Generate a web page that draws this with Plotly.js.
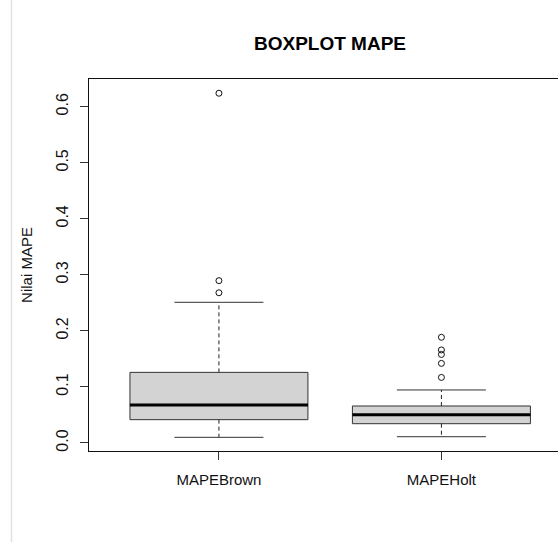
<!DOCTYPE html>
<html>
<head>
<meta charset="utf-8">
<script src="https://cdn.plot.ly/plotly-3.0.1.min.js"></script>
<style>html,body{margin:0;padding:0;overflow:hidden;background:#fff;}#chart{width:558px;height:542px;}</style>
</head>
<body>
<div id="chart"></div>
<script>
// Data
var categories = ['MAPEBrown', 'MAPEHolt'];
var q1Values = [0.0416, 0.0344];
var medianValues = [0.0678, 0.0505];
var q3Values = [0.126, 0.066];
var lowerWhiskers = [0.0101, 0.0112];
var upperWhiskers = [0.251, 0.0946];
var outliersBrown = [0.268, 0.2896, 0.624];
var outliersHolt = [0.117, 0.142, 0.158, 0.166, 0.1886];
var yTickValues = [0, 0.1, 0.2, 0.3, 0.4, 0.5, 0.6];
var yTickLabels = ['0.0', '0.1', '0.2', '0.3', '0.4', '0.5', '0.6'];

var positions = categories.map(function (c, i) { return i; });
var boxWidth = 0.8;
var stapleHalf = 0.2;

var traces = [];

// dashed whiskers
var wx = [], wy = [];
positions.forEach(function (p, i) {
  wx.push(p, p, null, p, p, null);
  wy.push(q3Values[i], upperWhiskers[i], null, q1Values[i], lowerWhiskers[i], null);
});
traces.push({type: 'scatter', mode: 'lines', x: wx, y: wy,
  line: {color: '#222', width: 1, dash: '4px,3px'}, hoverinfo: 'skip', showlegend: false});

// staples
var sx = [], sy = [];
positions.forEach(function (p, i) {
  sx.push(p - stapleHalf, p + stapleHalf, null, p - stapleHalf, p + stapleHalf, null);
  sy.push(upperWhiskers[i], upperWhiskers[i], null, lowerWhiskers[i], lowerWhiskers[i], null);
});
traces.push({type: 'scatter', mode: 'lines', x: sx, y: sy,
  line: {color: '#333', width: 1}, hoverinfo: 'skip', showlegend: false});

// boxes
traces.push({
  type: 'box', x: positions, q1: q1Values, median: medianValues, q3: q3Values,
  lowerfence: q1Values, upperfence: q3Values, width: boxWidth, whiskerwidth: 0,
  fillcolor: '#d3d3d3', line: {color: '#333', width: 1}, boxpoints: false,
  hoverinfo: 'skip', showlegend: false
});

// thick medians
var mx = [], my = [];
positions.forEach(function (p, i) {
  mx.push(p - boxWidth / 2, p + boxWidth / 2, null);
  my.push(medianValues[i], medianValues[i], null);
});
traces.push({type: 'scatter', mode: 'lines', x: mx, y: my,
  line: {color: '#000', width: 3}, hoverinfo: 'skip', showlegend: false});

// outliers
var ox = [], oy = [];
outliersBrown.forEach(function (v) { ox.push(positions[0]); oy.push(v); });
outliersHolt.forEach(function (v) { ox.push(positions[1]); oy.push(v); });
traces.push({type: 'scatter', mode: 'markers', x: ox, y: oy,
  marker: {symbol: 'circle-open', size: 6, color: '#111', line: {width: 1, color: '#111'}},
  hoverinfo: 'skip', showlegend: false});

var font = {family: 'Liberation Sans, Arial, sans-serif', size: 15, color: '#111'};

var layout = {
  width: 558, height: 542,
  margin: {l: 89, r: 0, t: 79, b: 91, pad: 0},
  paper_bgcolor: '#fff', plot_bgcolor: '#fff',
  font: font,
  showlegend: false,
  title: {text: '<b>BOXPLOT MAPE</b>', font: {family: 'Liberation Sans, Arial, sans-serif', size: 19, color: '#000'},
    xref: 'container', x: 330 / 558, xanchor: 'center', yref: 'container', y: 1 - 43 / 542, yanchor: 'middle'},
  xaxis: {
    range: [-0.584, 1.524], tickvals: positions, ticktext: categories,
    ticks: 'outside', ticklen: 8, tickcolor: '#333', tickwidth: 1,
    showline: true, mirror: true, linecolor: '#111', linewidth: 1,
    showgrid: false, zeroline: false, tickfont: font, ticklabelstandoff: 7, fixedrange: true
  },
  yaxis: {
    range: [-0.0143, 0.6494], tickvals: yTickValues, ticktext: yTickLabels,
    ticks: 'outside', ticklen: 8, tickcolor: '#333', tickwidth: 1, tickangle: -90,
    showline: true, mirror: false, linecolor: '#111', linewidth: 1,
    showgrid: false, zeroline: false, tickfont: {family: 'Liberation Sans, Arial, sans-serif', size: 16, color: '#111'},
    ticklabelstandoff: 6, fixedrange: true,
    title: {text: 'Nilai MAPE', font: font, standoff: 17}
  },
  shapes: [{type: 'line', xref: 'paper', yref: 'paper', x0: (11.5 - 89) / 469, x1: (11.5 - 89) / 469,
    y0: -1, y1: 2, line: {color: '#dbe2ea', width: 1.5}}]
};

Plotly.newPlot('chart', traces, layout, {displayModeBar: false, staticPlot: true});
</script>
</body>
</html>
